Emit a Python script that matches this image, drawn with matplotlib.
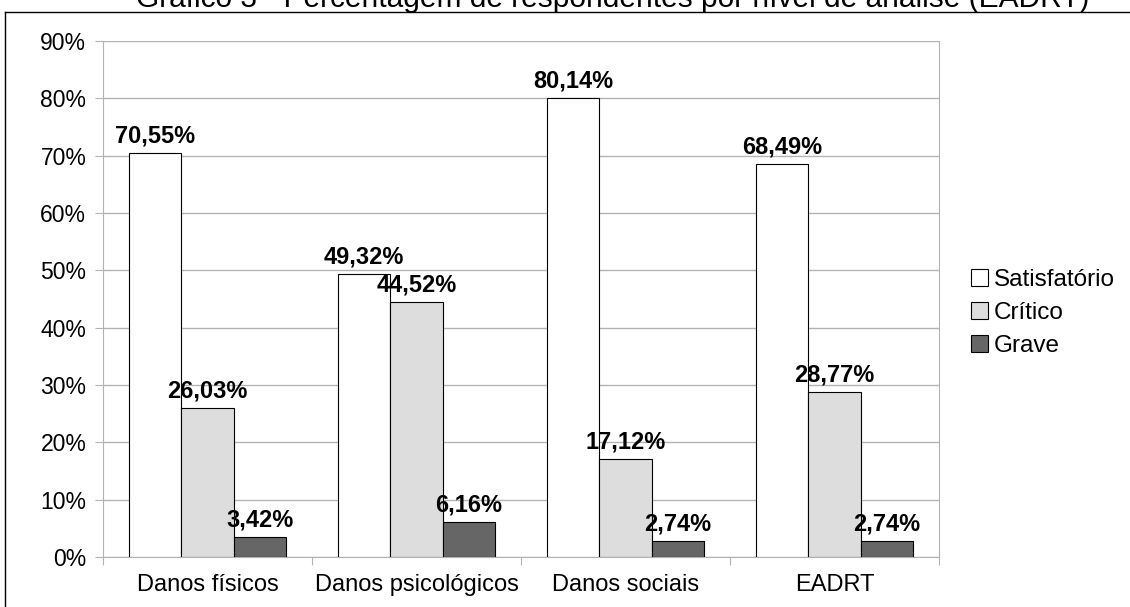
import numpy as np
import matplotlib.pyplot as plt
from matplotlib.lines import Line2D

plt.rcParams['font.family'] = ['Liberation Sans', 'DejaVu Sans']

categorias = ['Danos físicos', 'Danos psicológicos', 'Danos sociais', 'EADRT']
series = ['Satisfatório', 'Crítico', 'Grave']
satisfatorio = [70.55, 49.32, 80.14, 68.49]
critico = [26.03, 44.52, 17.12, 28.77]
grave = [3.42, 6.16, 2.74, 2.74]
yticks = [0, 10, 20, 30, 40, 50, 60, 70, 80, 90]

cores = ['#ffffff', '#dddddd', '#666666']

fig = plt.figure(figsize=(11.3, 6.07), dpi=100)
ax = fig.add_axes([103/1130, 1-557/607, 836/1130, 516/607])

x = np.arange(len(categorias)) + 0.5
w = 0.25
for i, (vals, cor) in enumerate(zip([satisfatorio, critico, grave], cores)):
    pos = x + (i - 1) * w
    ax.bar(pos, vals, width=w, color=cor, edgecolor='black', linewidth=0.8, zorder=3)
    for px, v in zip(pos, vals):
        ax.annotate(f'{v:.2f}%'.replace('.', ','), (px, v), xytext=(0, 7.5),
                    textcoords='offset points', ha='center', va='baseline',
                    fontsize=17, fontweight='bold', zorder=4)

ax.set_xlim(0, len(categorias))
ax.set_ylim(0, 90)
ax.set_yticks(yticks)
ax.set_yticklabels([f'{t}%' for t in yticks], fontsize=16.5)
ax.set_xticks(np.arange(len(categorias) + 1))
ax.set_xticklabels([])
ax.set_xticks(x, minor=True)
ax.set_xticklabels(categorias, minor=True, fontsize=17)
ax.tick_params(axis='x', which='minor', length=0, pad=12)
ax.tick_params(axis='x', which='major', length=6, color='#b3b3b3')
ax.tick_params(axis='y', length=6, color='#b3b3b3', pad=6)
ax.yaxis.grid(True, color='#b3b3b3', linewidth=1, zorder=0)
for s in ['left', 'bottom', 'right']:
    ax.spines[s].set_color('#b3b3b3')
ax.spines['top'].set_visible(False)

handles = [plt.Rectangle((0, 0), 1, 1, facecolor=c, edgecolor='black', linewidth=0.8) for c in cores]
fig.legend(handles, series, loc='center left', bbox_to_anchor=(971/1130, 1-313/607),
           frameon=False, fontsize=17.5, handlelength=0.7, handleheight=0.7,
           handletextpad=0.25, labelspacing=0.45, borderpad=0, borderaxespad=0)

# moldura do gráfico
fig.add_artist(Line2D([5/1130, 1], [1-12/607, 1-12/607], color='black', linewidth=1))
fig.add_artist(Line2D([5/1130, 5/1130], [0, 1-12/607], color='black', linewidth=1))

fig.text(613/1130, 1-7/607, 'Gráfico 3 - Percentagem de respondentes por nível de análise (EADRT)',
         ha='center', va='baseline', fontsize=21.5)

fig.savefig('out.png', dpi=100)
